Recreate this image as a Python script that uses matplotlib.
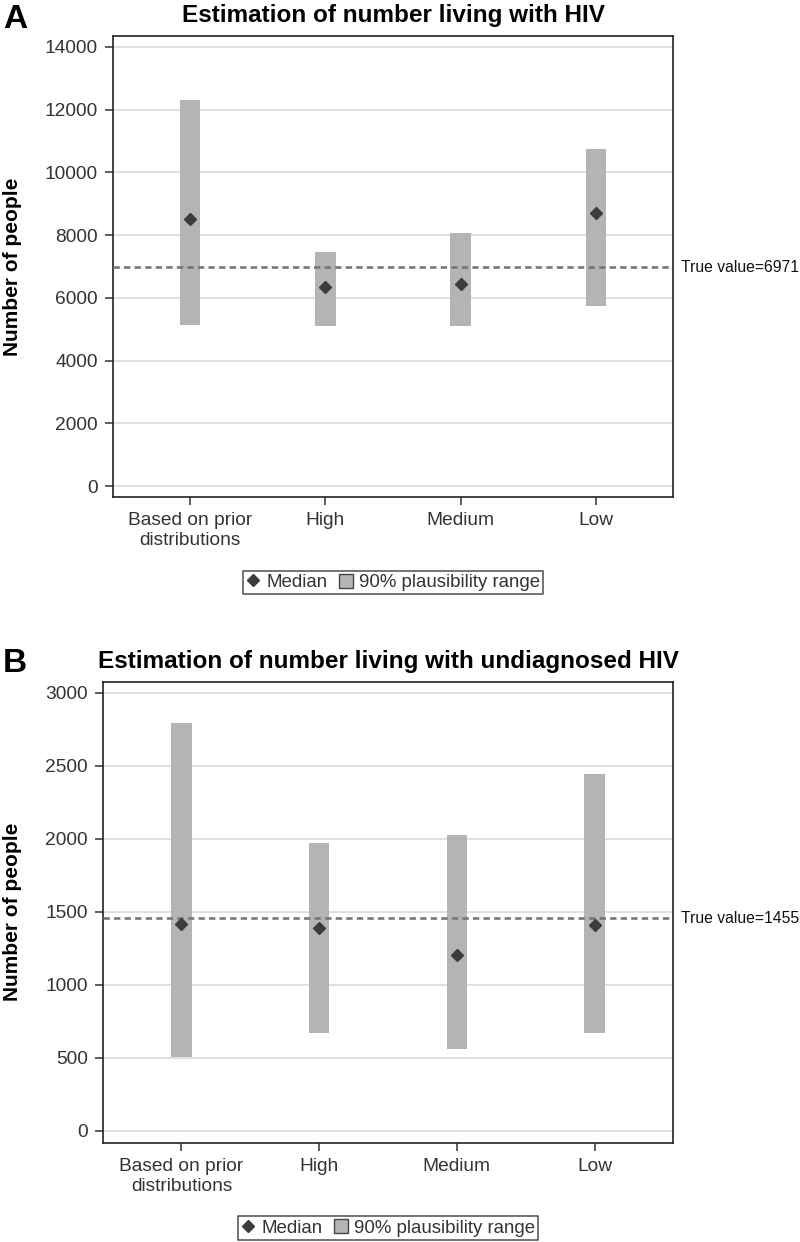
import matplotlib
matplotlib.use('Agg')
import matplotlib.pyplot as plt
from matplotlib.lines import Line2D
from matplotlib.patches import Patch

plt.rcParams['font.family'] = ['Liberation Sans', 'DejaVu Sans']

categories = ['Based on prior\ndistributions', 'High', 'Medium', 'Low']

# panel A: number living with HIV
hiv_median = [8500, 6350, 6440, 8720]
hiv_low = [5150, 5090, 5100, 5740]
hiv_high = [12300, 7450, 8060, 10750]
hiv_true = 6971

# panel B: number living with undiagnosed HIV
undiag_median = [1414, 1389, 1203, 1409]
undiag_low = [505, 668, 559, 667]
undiag_high = [2790, 1967, 2025, 2441]
undiag_true = 1455

BAR = '#b4b4b4'
DARK = '#3c3c3c'
TXT = '#333333'


def panel(ax, title, med, lo, hi, true, yticks, ylim, ylab_x):
    x = list(range(1, len(categories) + 1))
    for t in yticks:
        ax.axhline(t, color='#e0e0e0', lw=1.4, zorder=0)
    heights = [h - l for h, l in zip(hi, lo)]
    ax.bar(x, heights, bottom=lo, width=0.15, color=BAR, zorder=2)
    ax.axhline(true, color='#777777', lw=1.9, ls=(0, (2.4, 1.6)), zorder=3)
    ax.plot(x, med, 'D', color=DARK, ms=6.5, zorder=4)
    ax.annotate(f'True value={true}', xy=(1.0, true),
                xycoords=('axes fraction', 'data'),
                xytext=(6, 0), textcoords='offset points',
                ha='left', va='center', fontsize=11.3, color='#111111',
                annotation_clip=False)

    ax.set_xlim(0.43, 4.57)
    ax.set_ylim(*ylim)
    ax.set_xticks(x)
    ax.set_xticklabels(categories, fontsize=13.8, color=TXT)
    ax.set_yticks(yticks)
    ax.set_yticklabels([str(t) for t in yticks], fontsize=13.8, color=TXT)
    ax.tick_params(axis='both', length=6, width=1.1, color=TXT, pad=5)
    for s in ax.spines.values():
        s.set_color('#222222')
        s.set_linewidth(1.2)

    ax.set_ylabel('Number of people', fontsize=15, fontweight='bold')
    ax.yaxis.set_label_coords(ylab_x, 0.5)
    ax.set_title(title, fontsize=17.5, fontweight='bold', pad=10)

    handles = [
        Line2D([], [], marker='D', ls='none', color=DARK, ms=6.5),
        Patch(facecolor=BAR, edgecolor='#444444', lw=1.0),
    ]
    leg = ax.legend(handles, ['Median', '90% plausibility range'],
                    loc='upper center', bbox_to_anchor=(0.5, -0.16),
                    ncol=2, fontsize=13.4, frameon=True, fancybox=False,
                    borderpad=0.15, handletextpad=0.3, columnspacing=0.6,
                    handlelength=0.8, handleheight=0.8, borderaxespad=0)
    leg.get_frame().set_edgecolor('#222222')
    leg.get_frame().set_linewidth(1.1)
    for t in leg.get_texts():
        t.set_color(TXT)


fig = plt.figure(figsize=(8, 12.42), dpi=100)
ax1 = fig.add_axes([113 / 800, 1 - 497 / 1242, 560 / 800, 461 / 1242])
ax2 = fig.add_axes([103 / 800, 1 - 1142.7 / 1242, 570 / 800, 461 / 1242])

panel(ax1, 'Estimation of number living with HIV',
      hiv_median, hiv_low, hiv_high, hiv_true,
      list(range(0, 14001, 2000)), (-350, 14350), -0.163)
panel(ax2, 'Estimation of number living with undiagnosed HIV',
      undiag_median, undiag_low, undiag_high, undiag_true,
      list(range(0, 3001, 500)), (-82, 3075), -0.142)

fig.text(3 / 800, 1 - 28 / 1242, 'A', fontsize=24, fontweight='bold')
fig.text(3 / 800, 1 - 672 / 1242, 'B', fontsize=24, fontweight='bold')

fig.savefig('out.png', dpi=100)
